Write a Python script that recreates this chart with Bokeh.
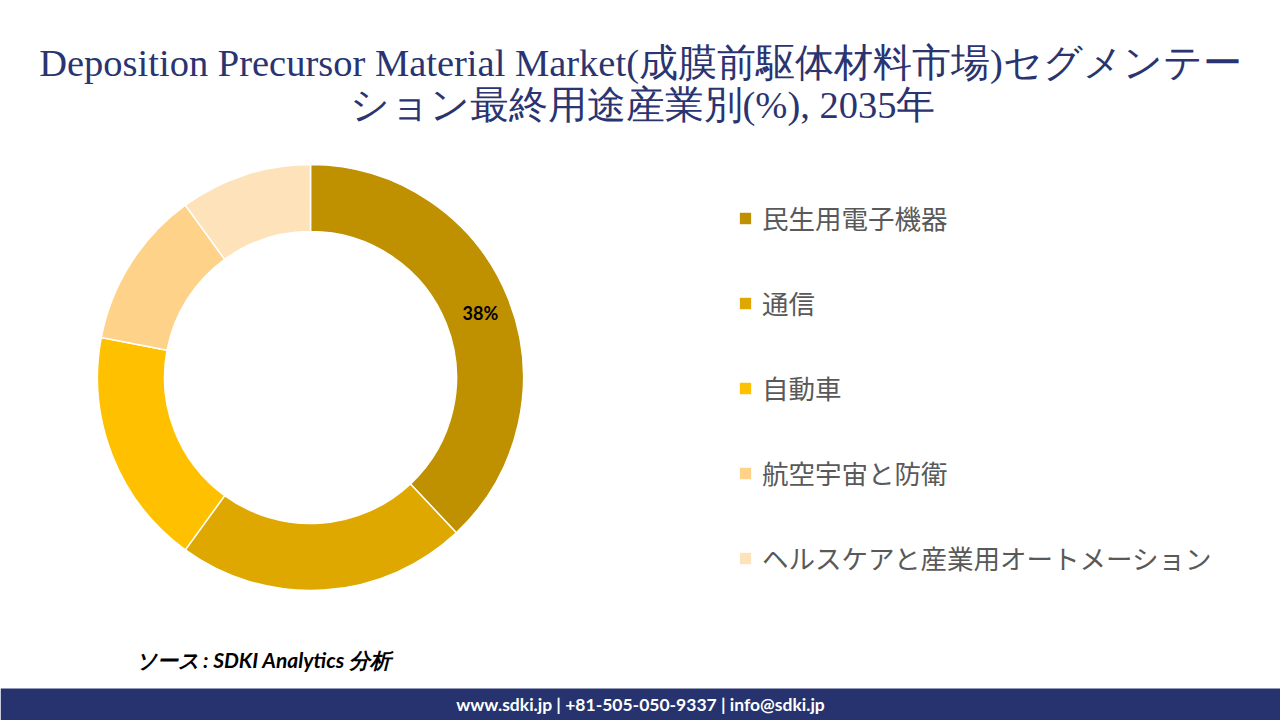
from math import pi
import math
from bokeh.plotting import figure
from bokeh.models import ColumnDataSource, Legend, LegendItem, Range1d
from bokeh.core.properties import value
from bokeh.embed import file_html
from bokeh.resources import INLINE

# ---- data ----
categories = ["民生用電子機器", "通信", "自動車", "航空宇宙と防衛", "ヘルスケアと産業用オートメーション"]
shares = [38, 22, 18, 12, 10]
colors = ["#BF9000", "#DFA800", "#FFC000", "#FFD28A", "#FDE2BA"]
shown_labels = ["38%", "", "", "", ""]

title_lines = ["Deposition Precursor Material Market(成膜前駆体材料市場)セグメンテー",
               "ション最終用途産業別(%), 2035年"]
source_text = "ソース : SDKI Analytics 分析"
footer_text = "www.sdki.jp | +81-505-050-9337 | info@sdki.jp"

W, H = 1280, 720
p = figure(width=W, height=H, output_backend="svg", toolbar_location=None,
           x_range=Range1d(0, W), y_range=Range1d(0, H),
           x_axis_type=None, y_axis_type=None, min_border=0)
p.grid.visible = False
p.outline_line_color = None
p.background_fill_color = "white"
p.border_fill_color = "white"

# donut
cx, cy = 310, H - 377
r_out, r_in = 213, 146
total = sum(shares)
starts, ends, lx, ly = [], [], [], []
cum = 0.0
for s in shares:
    a0 = pi / 2 - 2 * pi * cum / total
    a1 = pi / 2 - 2 * pi * (cum + s) / total
    starts.append(a0)
    ends.append(a1)
    mid = (a0 + a1) / 2
    rm = (r_out + r_in) / 2
    lx.append(cx + rm * math.cos(mid) + 3)
    ly.append(cy + rm * math.sin(mid) - 2)
    cum += s

src = ColumnDataSource(dict(cat=categories, share=shares, color=colors,
                            start=starts, end=ends, lx=lx, ly=ly, lab=shown_labels))
r = p.annular_wedge(x=cx, y=cy, inner_radius=r_in, outer_radius=r_out,
                    start_angle="start", end_angle="end", direction="clock",
                    fill_color="color", line_color="white", line_width=1.5, source=src)

p.text(x="lx", y="ly", text="lab", source=src, text_font=value("Lato"),
       text_font_style="bold", text_font_size="18px", text_color="black",
       text_align="center", text_baseline="middle")

legend = Legend(items=[LegendItem(label=c, renderers=[r], index=i) for i, c in enumerate(categories)],
                location=(737, 143), orientation="vertical",
                glyph_width=16, glyph_height=16, label_height=30, spacing=46,
                label_standoff=9, padding=0, margin=0,
                border_line_alpha=0, background_fill_alpha=0,
                label_text_font="Noto Sans CJK JP", label_text_font_size="26.5px",
                label_text_color="#595959")
p.add_layout(legend)

# title
p.text(x=[640, 642], y=[H - 62, H - 104], text=title_lines,
       text_font=value("Liberation Serif"), text_font_size="38.5px", text_color="#2A3470",
       text_align="center", text_baseline="middle")

# source
p.text(x=[135], y=[H - 659], text=[source_text], text_font=value("Lato"),
       text_font_style="bold italic", text_font_size="21px", text_color="black",
       text_align="left", text_baseline="middle")

# footer band
p.quad(left=[0], right=[W], bottom=[0], top=[H - 688], fill_color="#26336E", line_color=None)
p.text(x=[640], y=[H - 704], text=[footer_text], text_font=value("Lato"),
       text_font_style="bold", text_font_size="17.5px", text_color="white",
       text_align="center", text_baseline="middle")

open("out.html", "w").write(file_html(p, INLINE))
